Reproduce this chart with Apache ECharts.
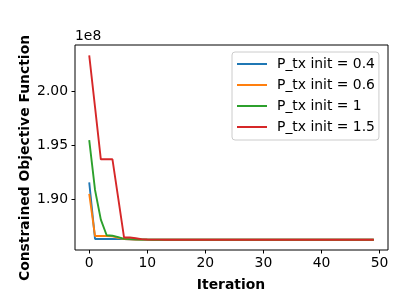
<!DOCTYPE html>
<html>
<head>
<meta charset="utf-8">
<script src="https://cdn.jsdelivr.net/npm/echarts@6/dist/echarts.min.js"></script>
<style>html,body{margin:0;padding:0;background:#fff;}#c{width:412px;height:304px;}</style>
</head>
<body>
<div id="c"></div>
<script>
// Values in units of 1e8
const iterations = [0,1,2,3,4,5,6,7,8,9,10,11,12,13,14,15,16,17,18,19,20,21,22,23,24,25,26,27,28,29,30,31,32,33,34,35,36,37,38,39,40,41,42,43,44,45,46,47,48,49];
const seriesNames = ['P_tx init = 0.4','P_tx init = 0.6','P_tx init = 1','P_tx init = 1.5'];
const blue = [1.9157,1.8634,1.8634,1.8633,1.8633,1.8632,1.8632,1.8630,1.8629,1.8628,1.8628,1.8627,1.8627,1.8627,1.8627,1.8627,1.8627,1.8627,1.8627,1.8627,1.8627,1.8627,1.8627,1.8627,1.8627,1.8627,1.8627,1.8627,1.8627,1.8627,1.8627,1.8627,1.8627,1.8627,1.8627,1.8627,1.8627,1.8627,1.8627,1.8627,1.8627,1.8627,1.8627,1.8627,1.8627,1.8627,1.8627,1.8627,1.8627,1.8627];
const orange = [1.9049,1.8661,1.8661,1.8661,1.8658,1.8645,1.8633,1.8630,1.8629,1.8628,1.8628,1.8627,1.8627,1.8627,1.8627,1.8627,1.8627,1.8627,1.8627,1.8627,1.8627,1.8627,1.8627,1.8627,1.8627,1.8627,1.8627,1.8627,1.8627,1.8627,1.8627,1.8627,1.8627,1.8627,1.8627,1.8627,1.8627,1.8627,1.8627,1.8627,1.8627,1.8627,1.8627,1.8627,1.8627,1.8627,1.8627,1.8627,1.8627,1.8627];
const green = [1.9547,1.9086,1.8812,1.8668,1.8664,1.8651,1.8635,1.8632,1.8630,1.8629,1.8628,1.8627,1.8627,1.8627,1.8627,1.8627,1.8627,1.8627,1.8627,1.8627,1.8627,1.8627,1.8627,1.8627,1.8627,1.8627,1.8627,1.8627,1.8627,1.8627,1.8627,1.8627,1.8627,1.8627,1.8627,1.8627,1.8627,1.8627,1.8627,1.8627,1.8627,1.8627,1.8627,1.8627,1.8627,1.8627,1.8627,1.8627,1.8627,1.8627];
const red = [2.0329,1.9850,1.9369,1.9369,1.9369,1.9008,1.8647,1.8647,1.8640,1.8632,1.8629,1.8628,1.8628,1.8627,1.8627,1.8627,1.8627,1.8627,1.8627,1.8627,1.8627,1.8627,1.8627,1.8627,1.8627,1.8627,1.8627,1.8627,1.8627,1.8627,1.8627,1.8627,1.8627,1.8627,1.8627,1.8627,1.8627,1.8627,1.8627,1.8627,1.8627,1.8627,1.8627,1.8627,1.8627,1.8627,1.8627,1.8627,1.8627,1.8627];
const xTicks = [0,10,20,30,40,50];
const yTicks = [1.90,1.95,2.00];
const colors = ['#1f77b4','#ff7f0e','#2ca02c','#d62728'];

const font = 'DejaVu Sans';
const fs = 13.9;
const allData = [blue, orange, green, red];
const chart = echarts.init(document.getElementById('c'), null, {renderer:'canvas'});
chart.setOption({
  animation: false,
  backgroundColor: '#fff',
  grid: {left: 75, right: 24, top: 45, bottom: 54, show: true, borderColor: '#000', borderWidth: 1, containLabel: false},
  xAxis: {
    type: 'value', min: -2.45, max: 51.45,
    axisLine: {show: false, onZero: false},
    splitLine: {show: false},
    axisTick: {show: true, inside: false, length: 3.5, lineStyle: {color: '#000', width: 1}, customValues: xTicks},
    axisLabel: {customValues: xTicks, color: '#000', fontFamily: font, fontSize: fs, margin: 6}
  },
  yAxis: {
    type: 'value', min: 1.8532, max: 2.0424,
    axisLine: {show: false, onZero: false},
    splitLine: {show: false},
    axisTick: {show: true, inside: false, length: 3.5, lineStyle: {color: '#000', width: 1}, customValues: yTicks},
    axisLabel: {customValues: yTicks, color: '#000', fontFamily: font, fontSize: fs, margin: 7,
      formatter: v => v.toFixed(2)}
  },
  legend: {
    orient: 'vertical', left: 232, top: 52,
    data: seriesNames,
    itemWidth: 30, itemHeight: 2, itemGap: 5,
    padding: [4, 4, 5, 4],
    backgroundColor: 'rgba(255,255,255,0.8)', borderColor: '#cccccc', borderWidth: 1, borderRadius: 3,
    textStyle: {fontFamily: font, fontSize: fs, color: '#000', lineHeight: 16, padding: [0,0,0,5]},
    itemStyle: {opacity: 0}
  },
  series: seriesNames.map((n, i) => ({
    name: n, type: 'line', symbol: 'none', showSymbol: false,
    data: iterations.map((x, j) => [x, allData[i][j]]),
    color: colors[i],
    lineStyle: {width: 1.9, color: colors[i]},
    z: 2 + i
  })),
  graphic: [
    {type: 'text', left: 75, top: 29, style: {text: '1e8', font: fs + 'px "DejaVu Sans"', fill: '#000'}},
    {type: 'text', x: 231, y: 285, style: {text: 'Iteration', font: 'bold ' + fs + 'px "DejaVu Sans"', fill: '#000', align: 'center', verticalAlign: 'middle'}},
    {type: 'text', x: 25, y: 158, rotation: Math.PI/2, style: {text: 'Constrained Objective Function', font: 'bold ' + fs + 'px "DejaVu Sans"', fill: '#000', align: 'center', verticalAlign: 'middle'}}
  ]
});
</script>
</body>
</html>
